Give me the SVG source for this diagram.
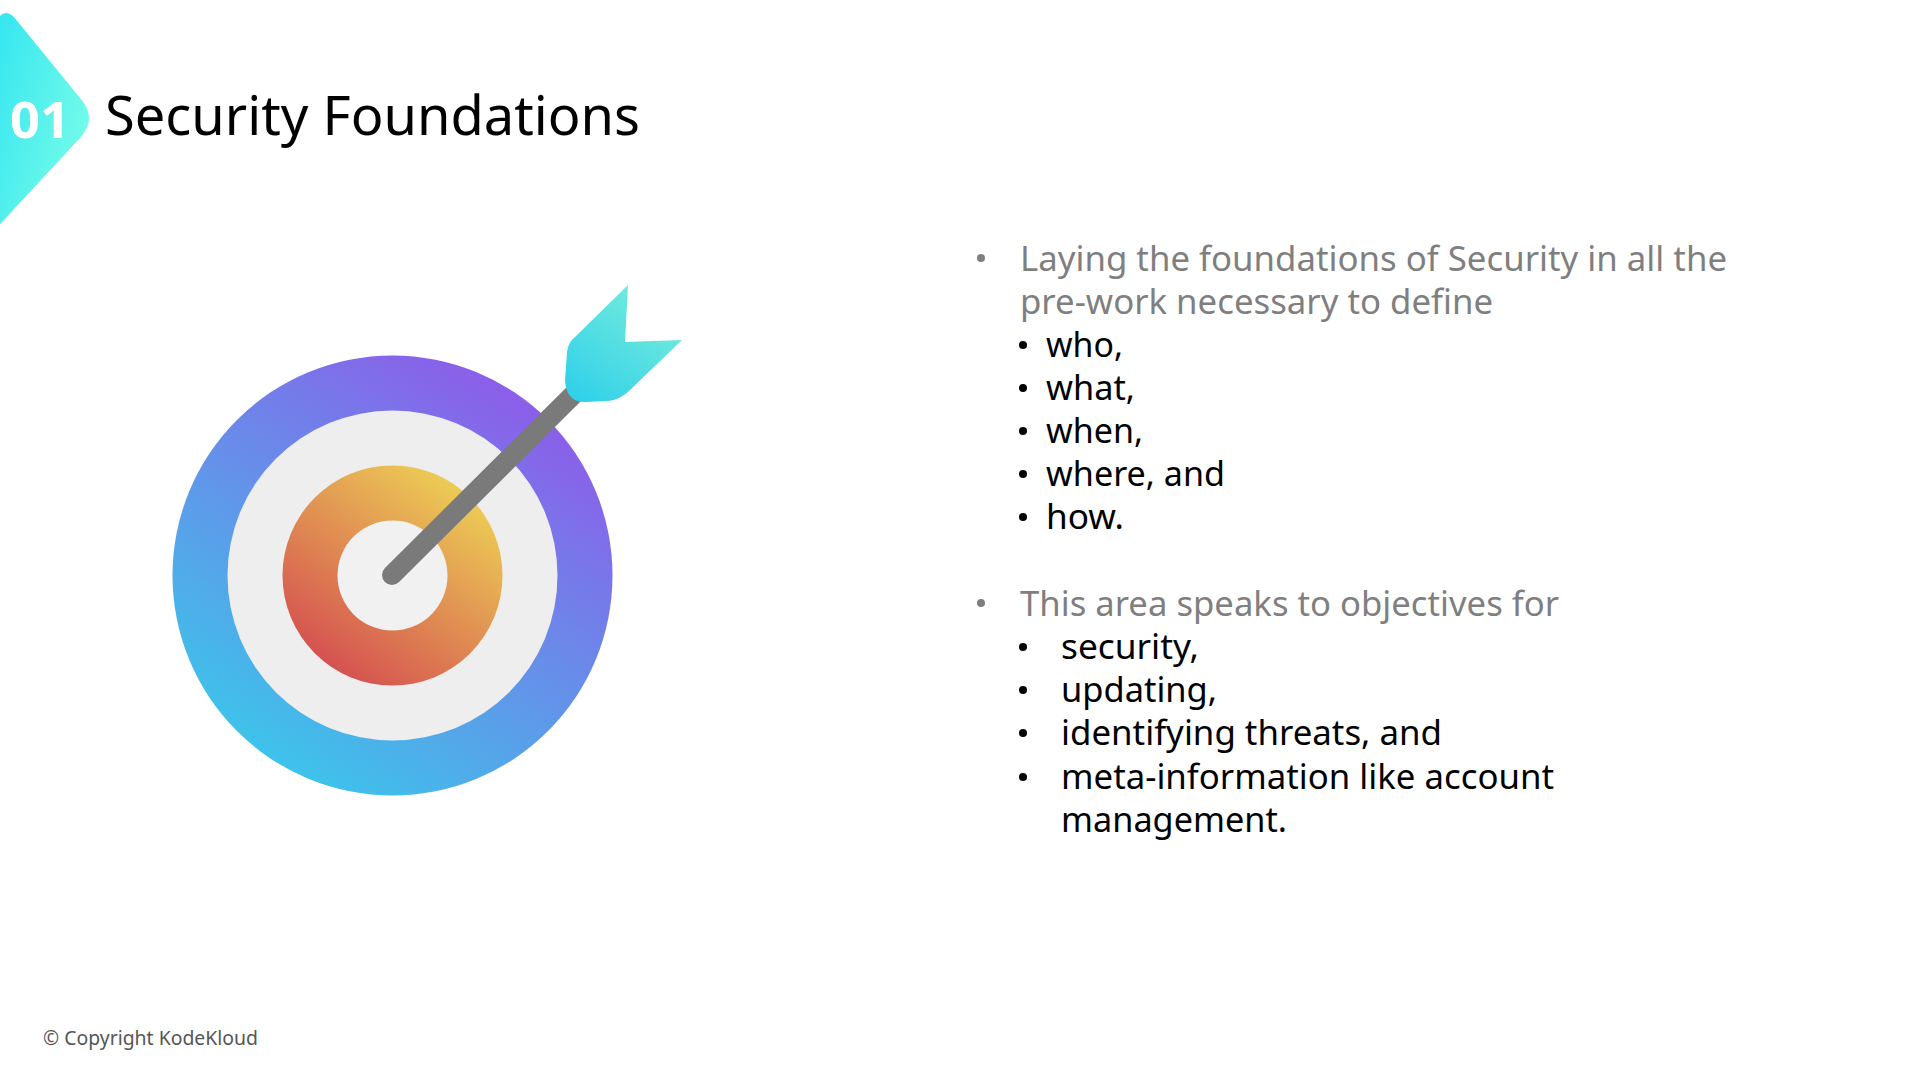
<svg xmlns="http://www.w3.org/2000/svg" width="1920" height="1080" viewBox="0 0 1920 1080">
<style>
text{font-family:"Noto Sans","Open Sans","DejaVu Sans",sans-serif}
.g{font-size:34px;fill:#7f7f7f}
.b{font-size:34px;fill:#000}
.dg{fill:#7f7f7f}
.db{fill:#000}
</style>
<defs>
<linearGradient id="bd" x1="0" y1="0" x2="1" y2="0.6"><stop offset="0" stop-color="#35e6f0"/><stop offset="1" stop-color="#74fbe9"/></linearGradient>
<linearGradient id="ro" gradientUnits="userSpaceOnUse" x1="270" y1="770" x2="520" y2="400"><stop offset="0" stop-color="#3cc5ea"/><stop offset="1" stop-color="#8b5fe9"/></linearGradient>
<linearGradient id="ry" gradientUnits="userSpaceOnUse" x1="325" y1="670" x2="460" y2="490"><stop offset="0" stop-color="#d44f50"/><stop offset="1" stop-color="#eccb55"/></linearGradient>
<linearGradient id="fl" gradientUnits="userSpaceOnUse" x1="580" y1="405" x2="660" y2="300"><stop offset="0" stop-color="#2fd0ea"/><stop offset="1" stop-color="#74ebdc"/></linearGradient>
</defs>
<rect width="1920" height="1080" fill="#fff"/>
<g id="badge">
<path d="M0 16Q8 8 18 22L80 98Q98 118 80 138L0 224Z" fill="url(#bd)"/>
<text x="10" y="138" font-size="50" font-weight="700" fill="#fff" textLength="60" lengthAdjust="spacingAndGlyphs">01</text>
</g>
<text id="title" x="105" y="135" font-size="55" fill="#000" textLength="535" lengthAdjust="spacingAndGlyphs">Security Foundations</text>
<g id="target">
<circle cx="392.500" cy="575.500" r="220" fill="url(#ro)"/>
<circle cx="392.500" cy="575.500" r="165" fill="#eeeeee"/>
<circle cx="392.500" cy="575.500" r="110" fill="url(#ry)"/>
<circle cx="392.500" cy="575.500" r="55" fill="#f1f1f1"/>
<path d="M392 575L578 390" stroke="#7a7a7a" stroke-width="20" stroke-linecap="round" fill="none"/>
<path d="M628 285L625 342L682 340L630 390Q620 400 608 401L585 402Q566 402 565 380L567 352Q568 342 576 336Z" fill="url(#fl)"/>
</g>
<g id="list1">
<circle class="dg" cx="981" cy="258" r="4"/>
<text class="g" x="1020" y="271" textLength="707" lengthAdjust="spacingAndGlyphs">Laying the foundations of Security in all the</text>
<text class="g" x="1020" y="314" textLength="473" lengthAdjust="spacingAndGlyphs">pre-work necessary to define</text>
<circle class="db" cx="1023" cy="345" r="4"/><text class="b" x="1046" y="357" textLength="77" lengthAdjust="spacingAndGlyphs">who,</text>
<circle class="db" cx="1023" cy="388" r="4"/><text class="b" x="1046" y="400" textLength="89" lengthAdjust="spacingAndGlyphs">what,</text>
<circle class="db" cx="1023" cy="431" r="4"/><text class="b" x="1046" y="443" textLength="97" lengthAdjust="spacingAndGlyphs">when,</text>
<circle class="db" cx="1023" cy="474" r="4"/><text class="b" x="1046" y="486" textLength="179" lengthAdjust="spacingAndGlyphs">where, and</text>
<circle class="db" cx="1023" cy="517" r="4"/><text class="b" x="1046" y="529" textLength="78" lengthAdjust="spacingAndGlyphs">how.</text>
</g>
<g id="list2">
<circle class="dg" cx="981" cy="603" r="4"/>
<text class="g" x="1020" y="616" textLength="539" lengthAdjust="spacingAndGlyphs">This area speaks to objectives for</text>
<circle class="db" cx="1023" cy="647" r="4"/><text class="b" x="1061" y="659" textLength="138" lengthAdjust="spacingAndGlyphs">security,</text>
<circle class="db" cx="1023" cy="690" r="4"/><text class="b" x="1061" y="702" textLength="156" lengthAdjust="spacingAndGlyphs">updating,</text>
<circle class="db" cx="1023" cy="733" r="4"/><text class="b" x="1061" y="745" textLength="381" lengthAdjust="spacingAndGlyphs">identifying threats, and</text>
<circle class="db" cx="1023" cy="777" r="4"/><text class="b" x="1061" y="789" textLength="493" lengthAdjust="spacingAndGlyphs">meta-information like account</text>
<text class="b" x="1061" y="832" textLength="226" lengthAdjust="spacingAndGlyphs">management.</text>
</g>
<text id="footer" x="43" y="1045" font-size="20" fill="#555" textLength="215" lengthAdjust="spacingAndGlyphs">© Copyright KodeKloud</text>
</svg>
